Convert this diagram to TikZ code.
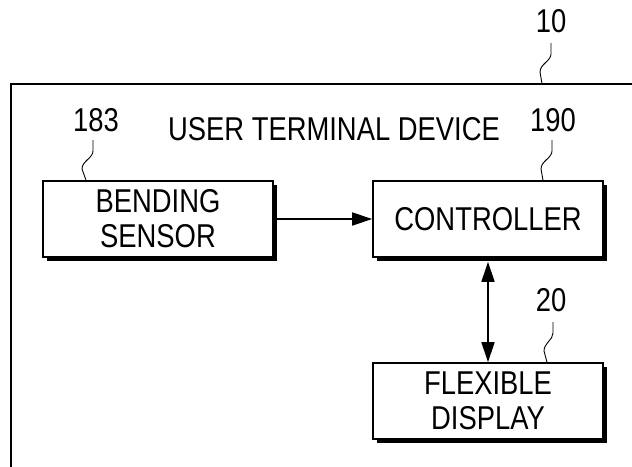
\documentclass[tikz,border=0pt]{standalone}
\usepackage{fontspec}
\setmainfont{Liberation Sans}[FakeStretch=0.83]
\usetikzlibrary{arrows.meta,shadows}
\begin{document}
\begin{tikzpicture}[x=1pt,y=-1pt,
  blk/.style={draw,fill=white,line width=1.6pt,minimum width=230pt,minimum height=76pt,
    inner sep=0pt,align=center,font=\fontsize{33}{35}\selectfont,
    drop shadow={shadow xshift=4pt,shadow yshift=-4pt,fill=black,opacity=1}},
  lbl/.style={inner sep=0pt,font=\fontsize{33}{35}\selectfont},
  leader/.style={line width=0.9pt},
  arr/.style={line width=1.6pt,-{Triangle[length=20pt,width=13pt]}},
  arrr/.style={line width=1.6pt,{Triangle[length=20pt,width=13pt]}-{Triangle[length=20pt,width=13pt]}}]
\useasboundingbox (0,0) rectangle (632,466);
\clip (0,0) rectangle (632,466);
\fill[white] (0,0) rectangle (632,466);
% outer frame
\draw[line width=2.2pt] (11,480) -- (11,84) -- (650,84);
% blocks
\node[blk] (bend) at (158,219) {BENDING\\SENSOR};
\node[blk] (ctrl) at (488,219) {CONTROLLER};
\node[blk] (flex) at (488,401) {FLEXIBLE\\DISPLAY};
% labels
\node[lbl] (title) at (334,129) {USER TERMINAL DEVICE};
\node[lbl] (l10) at (551,21) {10};
\node[lbl] (l183) at (96,120) {183};
\node[lbl] (l190) at (553,120) {190};
\node[lbl] (l20) at (551,300) {20};
% leader ends
\coordinate (e10) at (542,84);
\coordinate (e183) at ([xshift=-72pt]bend.north);
\coordinate (e190) at ([xshift=55pt]ctrl.north);
\coordinate (e20) at ([xshift=59pt]flex.north);
% leaders
\draw[leader] (551,43) -- (551,54) .. controls (551,61) and (540,64) .. (540,72) -- (e10);
\draw[leader] (93,140) -- (93,151) .. controls (93,158) and (82,161) .. (82,169) -- (e183);
\draw[leader] (552,140) -- (552,151) .. controls (552,158) and (541,161) .. (541,169) -- (e190);
\draw[leader] (553,322) -- (553,333) .. controls (553,340) and (544,343) .. (544,351) -- (e20);
% connectors
\draw[arr] (bend.east) -- (ctrl.west);
\draw[arrr] ([yshift=-4pt]ctrl.south) -- (flex.north);
\end{tikzpicture}
\end{document}
